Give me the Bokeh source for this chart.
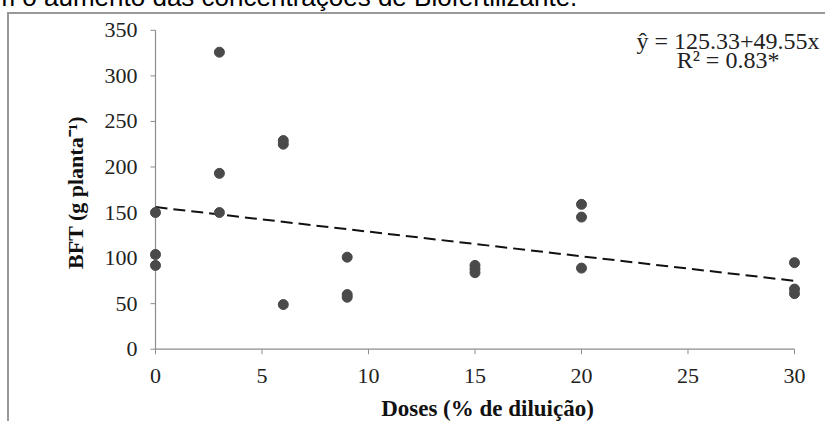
import math
from bokeh.plotting import figure
from bokeh.models import Label, Div, Range1d, FixedTicker
from bokeh.layouts import column
from bokeh.embed import file_html
from bokeh.resources import INLINE

# ---- data ----
caption = "com o aumento das concentrações de Biofertilizante."
doses = [0, 0, 0, 3, 3, 3, 6, 6, 6, 9, 9, 9, 15, 15, 15, 20, 20, 20, 30, 30, 30]
bft = [150, 104, 92, 326, 193, 150, 229, 225, 49, 101, 60, 57, 92, 88, 84, 159, 145, 89, 95, 66, 61]
trend_x = [0, 30]
trend_y = [156, 75]
x_ticks = [0, 5, 10, 15, 20, 25, 30]
y_ticks = [0, 50, 100, 150, 200, 250, 300, 350]
x_title = "Doses (% de diluição)"
y_title = "BFT (g planta\u207b\u00b9)"
eq_line1 = "ŷ = 125.33+49.55x"
eq_line2 = "R² = 0.83*"

SERIF = "Liberation Serif"
AXIS_COLOR = "#8c8c8c"

p = figure(width=818, height=409,
           x_range=Range1d(-0.3287, 31.5026), y_range=Range1d(-8, 352),
           output_backend="svg", toolbar_location=None,
           min_border_left=139, min_border_right=1,
           min_border_top=14, min_border_bottom=66)
p.margin = (0, 0, 0, 7)
p.styles = {"border-top": "2px solid #999999", "border-left": "2px solid #999999"}
p.outline_line_color = None
p.background_fill_color = "white"
p.border_fill_color = "white"
p.xgrid.visible = False
p.ygrid.visible = False

for ax in (p.xaxis[0], p.yaxis[0]):
    ax.axis_line_color = None
    ax.major_tick_line_color = None
    ax.minor_tick_line_color = None
    ax.major_tick_out = 0
    ax.major_tick_in = 0
    ax.major_label_text_font = SERIF
    ax.major_label_text_font_size = "22px"
    ax.major_label_text_color = "#222222"
    ax.axis_label_text_font = SERIF
    ax.axis_label_text_font_style = "bold"
    ax.axis_label_text_color = "#111111"

p.xaxis.ticker = FixedTicker(ticks=x_ticks)
p.yaxis.ticker = FixedTicker(ticks=y_ticks)
p.xaxis.major_label_standoff = 12
p.yaxis.major_label_standoff = 11
p.yaxis.axis_label = y_title
p.yaxis.axis_label_text_font_size = "22px"
p.yaxis.axis_label_standoff = 14
p.xaxis.axis_label = x_title
p.xaxis.axis_label_text_font_size = "23px"
p.xaxis.axis_label_standoff = 10

# axis lines and tick marks drawn at the data origin
p.segment(x0=[x_ticks[0]], y0=[y_ticks[0]], x1=[x_ticks[0]], y1=[y_ticks[-1]],
          line_color=AXIS_COLOR, line_width=1.2)
p.segment(x0=[x_ticks[0]], y0=[y_ticks[0]], x1=[x_ticks[-1]], y1=[y_ticks[0]],
          line_color=AXIS_COLOR, line_width=1.2)
p.ray(x=[x_ticks[0]] * len(y_ticks), y=y_ticks, length=5, length_units="screen",
      angle=math.pi, line_color=AXIS_COLOR, line_width=1)
p.ray(x=x_ticks, y=[y_ticks[0]] * len(x_ticks), length=5, length_units="screen",
      angle=-math.pi / 2, line_color=AXIS_COLOR, line_width=1)

# trend line and observations
p.line(trend_x, trend_y, line_color="#111111", line_width=2, line_dash="12 6")
p.scatter(doses, bft, size=10, fill_color="#4a4a4a", line_color="#4a4a4a")

p.add_layout(Label(x=26.88, y=337.8, text=eq_line1, text_align="center",
                   text_baseline="middle", text_font=SERIF,
                   text_font_size="24px", text_color="#222222"))
p.add_layout(Label(x=26.88, y=317, text=eq_line2, text_align="center",
                   text_baseline="middle", text_font=SERIF,
                   text_font_size="24px", text_color="#222222"))

span_style = ("display:block;position:relative;top:-18px;left:-34px;"
              "font-family:'Liberation Sans';font-size:26px;line-height:30px;"
              "white-space:nowrap;color:#000000;")
cap = Div(text=f'<span style="{span_style}">{caption}</span>',
          width=818, height=12, margin=0, styles={"overflow": "visible"})

layout = column(cap, p, spacing=0)
open("out.html", "w").write(file_html(layout, INLINE))
